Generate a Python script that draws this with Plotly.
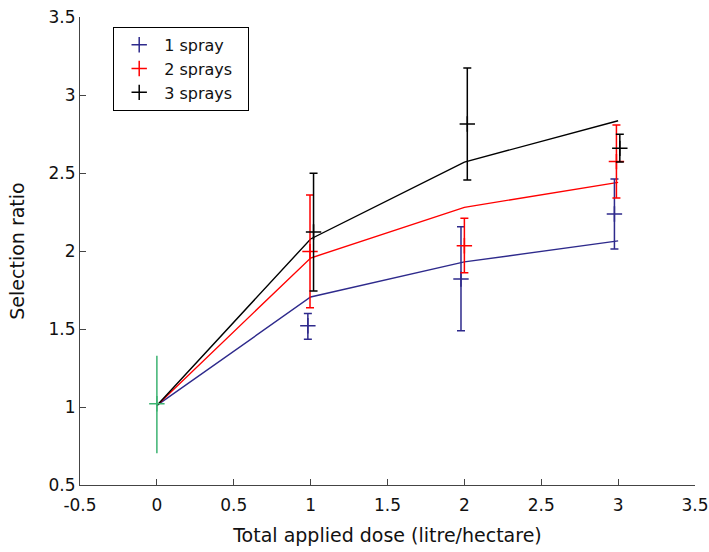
import plotly.graph_objects as go

# Line (mean model) values
line_x = [0, 1, 2, 3]
line_1spray = [1.01, 1.705, 1.93, 2.065]
line_2sprays = [1.01, 1.955, 2.28, 2.44]
line_3sprays = [1.01, 2.077, 2.57, 2.835]

# Observed points with error bars
pts_1_x = [0.982, 1.978, 2.976]
pts_1_y = [1.521, 1.82, 2.237]
pts_1_hi = [1.60, 2.156, 2.462]
pts_1_lo = [1.434, 1.489, 2.013]

pts_2_x = [0.996, 2.0, 2.989]
pts_2_y = [1.996, 2.034, 2.573]
pts_2_hi = [2.359, 2.21, 2.808]
pts_2_lo = [1.636, 1.861, 2.34]

pts_3_x = [1.019, 2.019, 3.011]
pts_3_y = [2.122, 2.814, 2.658]
pts_3_hi = [2.498, 3.173, 2.748]
pts_3_lo = [1.744, 2.455, 2.57]

ctrl_x = [0.0]
ctrl_y = [1.021]
ctrl_hi = [1.329]
ctrl_lo = [0.703]

x_ticks = [-0.5, 0, 0.5, 1, 1.5, 2, 2.5, 3, 3.5]
x_ticklabels = ["-0.5", "0", "0.5", "1", "1.5", "2", "2.5", "3", "3.5"]
y_ticks = [0.5, 1, 1.5, 2, 2.5, 3, 3.5]
y_ticklabels = ["0.5", "1", "1.5", "2", "2.5", "3", "3.5"]

names = ["1 spray", "2 sprays", "3 sprays"]
colors = ["#2e2a8c", "#ff0000", "#000000"]

FONT = "DejaVu Sans, Liberation Sans, Arial, sans-serif"
PAD = "\u00a0\u00a0"  # right padding inside the legend box

fig = go.Figure()

for ly, c in zip([line_1spray, line_2sprays, line_3sprays], colors):
    fig.add_trace(go.Scatter(x=line_x, y=ly, mode="lines",
                             line=dict(color=c, width=1.4), showlegend=False,
                             hoverinfo="skip"))

def add_pts(x, y, hi, lo, c, name, show, capw=4):
    fig.add_trace(go.Scatter(
        x=x, y=y, mode="markers", name=name, showlegend=show,
        marker=dict(symbol="cross-thin", size=11, color=c,
                    line=dict(color=c, width=1.5)),
        error_y=dict(type="data", symmetric=False,
                     array=[h - v for h, v in zip(hi, y)],
                     arrayminus=[v - l for v, l in zip(y, lo)],
                     color=c, thickness=1.5, width=capw)))

add_pts(ctrl_x, ctrl_y, ctrl_hi, ctrl_lo, "#3cb371", "control", False, capw=0)
add_pts(pts_1_x, pts_1_y, pts_1_hi, pts_1_lo, colors[0], names[0] + PAD, True)
add_pts(pts_2_x, pts_2_y, pts_2_hi, pts_2_lo, colors[1], names[1] + PAD, True)
add_pts(pts_3_x, pts_3_y, pts_3_hi, pts_3_lo, colors[2], names[2] + PAD, True)

axis_common = dict(showgrid=False, zeroline=False, showline=True,
                   linecolor="#444444", linewidth=1, ticks="inside",
                   ticklen=6, tickcolor="#444444", mirror=False,
                   automargin=False, ticklabeloverflow="allow",
                   tickfont=dict(family=FONT, size=17, color="#111111"))

fig.update_xaxes(range=[-0.5, 3.5], tickvals=x_ticks, ticktext=x_ticklabels,
                 ticklabelstandoff=5,
                 title=dict(text="Total applied dose (litre/hectare)",
                            font=dict(family=FONT, size=19, color="#111111"),
                            standoff=14),
                 **axis_common)
fig.update_yaxes(range=[0.5, 3.5], tickvals=y_ticks, ticktext=y_ticklabels,
                 title=dict(text="Selection ratio",
                            font=dict(family=FONT, size=19, color="#111111"),
                            standoff=18),
                 **axis_common)

fig.update_layout(
    width=709, height=552,
    margin=dict(l=80, r=14, t=17, b=67),
    plot_bgcolor="white", paper_bgcolor="white",
    font=dict(family=FONT, color="#111111"),
    legend=dict(x=0.054, y=0.979, xanchor="left", yanchor="top",
                bordercolor="#000000", borderwidth=1, bgcolor="white",
                font=dict(family=FONT, size=16), tracegroupgap=0,
                itemwidth=40),
)

fig.write_html("out.html", config={"displayModeBar": False},
               post_script="document.body.style.margin='0';document.body.style.overflow='hidden';")
